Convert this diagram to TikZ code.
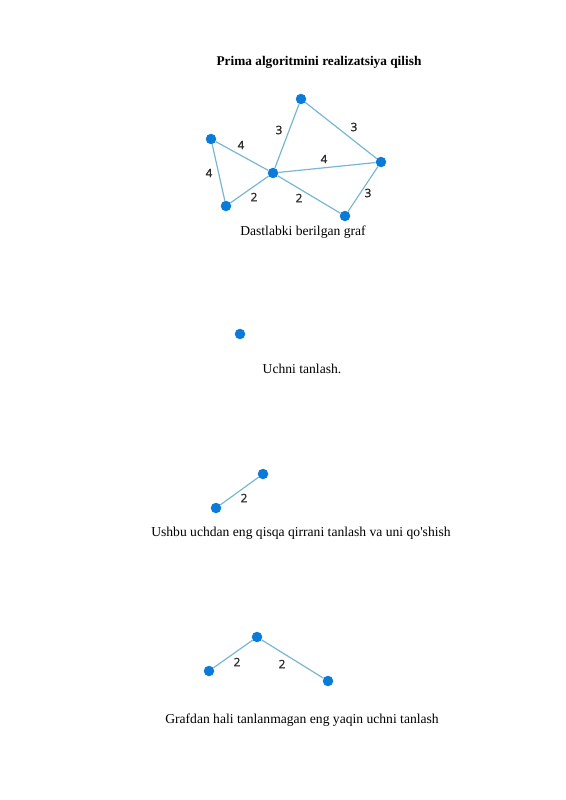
\documentclass[tikz,border=0pt]{standalone}
\usepackage{fontspec}
\setmainfont{Liberation Serif}[Ligatures=TeXOff]
\newfontfamily\wtfont{Open Sans}[FakeBold=2]
\definecolor{nodeblue}{HTML}{0A7BD8}
\definecolor{edgeblue}{HTML}{78B7D3}
\definecolor{wtgray}{HTML}{2E2E2E}

\begin{document}
\begin{tikzpicture}[x=1pt, y=-1pt,
    vertex/.style={circle, fill=nodeblue, inner sep=0pt, minimum size=10.5pt},
    link/.style={edgeblue, line width=1.2pt},
    wt/.style={text=wtgray, font=\wtfont\fontsize{11.5}{13}\selectfont, inner sep=0pt},
    caption/.style={font=\fontsize{13.6}{15}\selectfont, inner sep=0pt}]
\useasboundingbox (0,0) rectangle (565,800);

% sarlavha
\node[caption, font=\bfseries\fontsize{13.3}{15}\selectfont] (title) at (319,62) {Prima algoritmini realizatsiya qilish};

% berilgan graf
\node[vertex] (a) at (301,99) {};
\node[vertex] (b) at (211,139) {};
\node[vertex] (c) at (273,173) {};
\node[vertex] (d) at (381,162) {};
\node[vertex] (e) at (226,206) {};
\node[vertex] (f) at (345,216) {};
\draw[link] (a) -- (c);
\draw[link] (a) -- (d);
\draw[link] (b) -- (c);
\draw[link] (b) -- (e);
\draw[link] (c) -- (d);
\draw[link] (c) -- (e);
\draw[link] (c) -- (f);
\draw[link] (d) -- (f);
\node[wt] (w1) at (279,130) {3};
\node[wt] (w2) at (354,127) {3};
\node[wt] (w3) at (241,145) {4};
\node[wt] (w4) at (209,173) {4};
\node[wt] (w5) at (324,159) {4};
\node[wt] (w6) at (254,197) {2};
\node[wt] (w7) at (299,198) {2};
\node[wt] (w8) at (368,193) {3};
\node[caption] (cap1) at (303,232) {Dastlabki berilgan graf};

% 1-qadam
\node[vertex] (s1) at (240,334) {};
\node[caption] (cap2) at (302,369) {Uchni tanlash.};

% 2-qadam
\node[vertex] (t1) at (216,508) {};
\node[vertex] (t2) at (263,474) {};
\draw[link] (t1) -- (t2);
\node[wt] (w9) at (244,498) {2};
\node[caption] (cap3) at (301,533) {Ushbu uchdan eng qisqa qirrani tanlash va uni qo'shish};

% 3-qadam
\node[vertex] (u1) at (209,671) {};
\node[vertex] (u2) at (257,637) {};
\node[vertex] (u3) at (328,681) {};
\draw[link] (u1) -- (u2);
\draw[link] (u2) -- (u3);
\node[wt] (w10) at (237,662) {2};
\node[wt] (w11) at (282,664) {2};
\node[caption] (cap4) at (302,720) {Grafdan hali tanlanmagan eng yaqin uchni tanlash};
\end{tikzpicture}
\end{document}
